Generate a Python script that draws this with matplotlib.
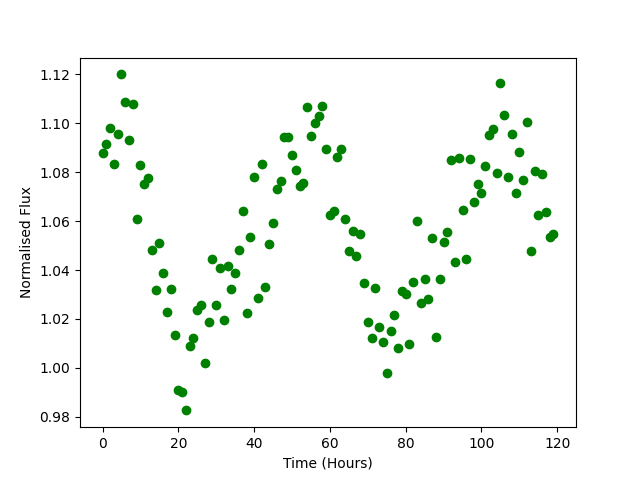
import matplotlib
matplotlib.use("Agg")
import matplotlib.pyplot as plt

hours = list(range(120))
flux = [
    1.0880, 1.0917, 1.0982, 1.0835, 1.0957, 1.1200, 1.1088, 1.0933, 1.1077, 1.0610,
    1.0830, 1.0753, 1.0775, 1.0483, 1.0320, 1.0512, 1.0389, 1.0229, 1.0324, 1.0133,
    0.9908, 0.9902, 0.9826, 1.0090, 1.0124, 1.0238, 1.0258, 1.0021, 1.0189, 1.0446,
    1.0258, 1.0410, 1.0194, 1.0415, 1.0324, 1.0389, 1.0483, 1.0642, 1.0225, 1.0536,
    1.0782, 1.0287, 1.0835, 1.0332, 1.0505, 1.0591, 1.0733, 1.0766, 1.0945, 1.0945,
    1.0872, 1.0810, 1.0742, 1.0757, 1.1065, 1.0949, 1.1002, 1.1031, 1.1069, 1.0896,
    1.0627, 1.0641, 1.0863, 1.0896, 1.0610, 1.0479, 1.0560, 1.0458, 1.0546, 1.0348,
    1.0189, 1.0124, 1.0328, 1.0168, 1.0106, 0.9980, 1.0152, 1.0217, 1.0082, 1.0314,
    1.0303, 1.0099, 1.0352, 1.0602, 1.0266, 1.0362, 1.0283, 1.0533, 1.0128, 1.0364,
    1.0516, 1.0557, 1.0848, 1.0431, 1.0859, 1.0647, 1.0446, 1.0855, 1.0677, 1.0750,
    1.0716, 1.0827, 1.0953, 1.0978, 1.0798, 1.1166, 1.1036, 1.0779, 1.0955, 1.0716,
    1.0884, 1.0769, 1.1004, 1.0479, 1.0803, 1.0627, 1.0794, 1.0639, 1.0536, 1.0547,
]

fig, ax = plt.subplots(figsize=(6.4, 4.8), dpi=100)
ax.plot(hours, flux, 'go')
ax.set_xlabel("Time (Hours)")
ax.set_ylabel("Normalised Flux")
fig.savefig("out.png")
